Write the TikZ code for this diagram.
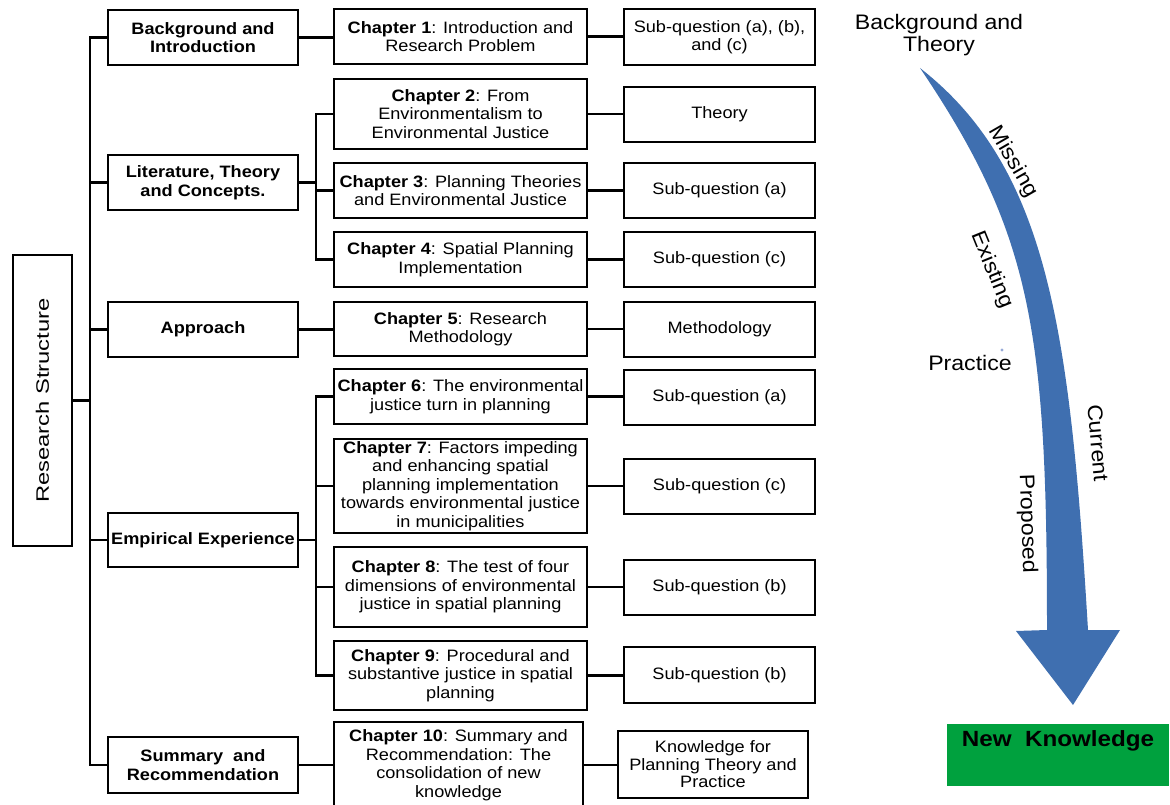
\documentclass[tikz,border=0pt]{standalone}
\usepackage{fontspec}
\setmainfont{Liberation Sans}[FakeStretch=1.1]
\definecolor{arrowblue}{RGB}{63,111,176}
\definecolor{knowgreen}{RGB}{0,161,62}
\definecolor{dotblue}{RGB}{150,170,215}
\begin{document}
\begin{tikzpicture}[x=1pt,y=-1pt,
  box/.style={draw, line width=2.6pt, inner sep=0pt, align=center,
    minimum height=55pt, font=\fontsize{16.5}{18.5}\selectfont},
  partbox/.style={box, minimum width=190pt, font=\bfseries\fontsize{16.5}{18.5}\selectfont},
  chapbox/.style={box, minimum width=253pt},
  qbox/.style={box, minimum width=191pt},
  link/.style={line width=2.6pt, line join=miter},
  sidelabel/.style={inner sep=0pt, font=\fontsize{21}{23}\selectfont}
]
\useasboundingbox (0,0) rectangle (1170,805);

% root
\node[draw, line width=2.6pt, minimum width=59pt, minimum height=291pt, inner sep=0pt] (rs) at (42.5,400.5) {};
\node[rotate=90, inner sep=0pt, font=\fontsize{18}{20}\selectfont] (rslabel) at (rs.center)
  {\scalebox{1.2}[1]{Research Structure}};

% parts
\node[partbox] (bg)  at (203,37.5)  {Background and\\Introduction};
\node[partbox] (lit) at (203,182.5) {Literature, Theory\\and Concepts.};
\node[partbox] (app) at (203,329.5) {Approach};
\node[partbox, minimum height=54pt] (emp) at (203,540) {Empirical Experience};
\node[partbox, minimum height=56pt] (sum) at (203,765) {Summary\ \ and\\Recommendation};

% chapters
\node[chapbox] (c1) at (460.5,36.5) {\textbf{Chapter 1}: Introduction and\\Research Problem};
\node[chapbox, minimum height=70pt] (c2) at (460.5,114) {\textbf{Chapter 2}: From\\Environmentalism to\\Environmental Justice};
\node[chapbox] (c3) at (460.5,190.5) {\textbf{Chapter 3}: Planning Theories\\and Environmental Justice};
\node[chapbox] (c4) at (460.5,259.5) {\textbf{Chapter 4}: Spatial Planning\\Implementation};
\node[chapbox, minimum height=54pt] (c5) at (460.5,329) {\textbf{Chapter 5}: Research\\Methodology};
\node[chapbox] (c6) at (460.5,396.5) {\textbf{Chapter 6}: The environmental\\justice turn in planning};
\node[chapbox, minimum height=94pt] (c7) at (460.5,486) {\textbf{Chapter 7}: Factors impeding\\and enhancing spatial\\planning implementation\\towards environmental justice\\in municipalities};
\node[chapbox, minimum height=80pt] (c8) at (460.5,587) {\textbf{Chapter 8}: The test of four\\dimensions of environmental\\justice in spatial planning};
\node[chapbox, minimum height=69pt] (c9) at (460.5,675.5) {\textbf{Chapter 9}: Procedural and\\substantive justice in spatial\\planning};
\node[chapbox, minimum width=249pt, minimum height=86pt] (c10) at (458.5,765) {\textbf{Chapter 10}: Summary and\\Recommendation: The\\consolidation of new\\knowledge};

% questions and outcomes
\node[qbox, minimum height=56pt] (s1) at (719.5,37) {Sub-question (a), (b),\\and (c)};
\node[qbox] (s2) at (719.5,114.5) {Theory};
\node[qbox] (s3) at (719.5,190.5) {Sub-question (a)};
\node[qbox] (s4) at (719.5,259.5) {Sub-question (c)};
\node[qbox] (s5) at (719.5,329.5) {Methodology};
\node[qbox] (s6) at (719.5,397.5) {Sub-question (a)};
\node[qbox] (s7) at (719.5,486.5) {Sub-question (c)};
\node[qbox] (s8) at (719.5,587.5) {Sub-question (b)};
\node[qbox, minimum height=56pt] (s9) at (719.5,675) {Sub-question (b)};
\node[qbox, minimum width=190pt, minimum height=67pt, font=\fontsize{16.5}{17.5}\selectfont] (s10) at (713,764.5) {Knowledge for\\Planning Theory and\\Practice};

% trunk lines
\coordinate (trunk) at (90,0);
\coordinate (sub) at (316,0);
\draw[link] (rs.east) -- (rs.east -| trunk);
\draw[link] (bg.west) -- (bg.west -| trunk) -- (sum.west -| trunk) -- (sum.west);
\foreach \n in {lit,app,emp} \draw[link] (\n.west) -- (\n.west -| trunk);

% part to chapter
\draw[link] (bg.east) -- (bg.east -| c1.west);
\draw[link] (app.east) -- (app.east -| c5.west);
\draw[link] (sum.east) -- (sum.east -| c10.west);
\draw[link] (lit.east) -- (lit.east -| sub);
\draw[link] (c2.west) -- (c2.west -| sub) -- (c4.west -| sub) -- (c4.west);
\draw[link] (c3.west) -- (c3.west -| sub);
\draw[link] (emp.east) -- (emp.east -| sub);
\draw[link] (c6.west) -- (c6.west -| sub) -- (c9.west -| sub) -- (c9.west);
\foreach \n in {c7,c8} \draw[link] (\n.west) -- (\n.west -| sub);

% chapter to question
\foreach \a/\b in {c1/s1,c2/s2,c3/s3,c4/s4,c5/s5,c6/s6,c7/s7,c8/s8,c9/s9,c10/s10}
  \draw[link] (\a.east) -- (\a.east -| \b.west);

% curved arrow towards new knowledge
\coordinate (atop) at (920,68);
\coordinate (atip) at (1073,705);
\fill[arrowblue] (atop) .. controls (1032,234) and (1047,330) .. (1047,630)
  -- (1016,631) -- (atip) -- (1120,630) -- (1088,630)
  .. controls (1070,330) and (1048,168) .. (atop) -- cycle;

\node[sidelabel, align=center, font=\fontsize{21}{22.5}\selectfont] (bt) at (939,35) {Background and\\Theory};
\node[sidelabel, rotate=-60] (miss) at (1013,162) {Missing};
\node[sidelabel, rotate=-68] (exist) at (992,270) {Existing};
\node[sidelabel] (prac) at (970,363) {Practice};
\fill[dotblue] (1002,350) circle (1.6);
\node[sidelabel, rotate=-85] (curr) at (1098,443) {Current};
\node[sidelabel, rotate=-88] (prop) at (1027,524) {Proposed};

% outcome box
\node[fill=knowgreen, minimum width=222pt, minimum height=62pt, inner sep=0pt] (nk) at (1058,755) {};
\node[inner sep=0pt, font=\bfseries\fontsize{22}{24}\selectfont] (nklabel) at (1058,741) {New\ \ Knowledge};
\end{tikzpicture}
\end{document}
